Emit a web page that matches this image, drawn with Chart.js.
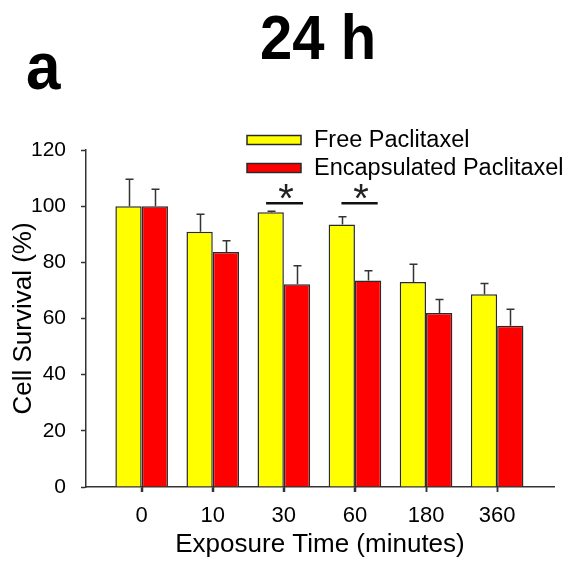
<!DOCTYPE html>
<html>
<head>
<meta charset="utf-8">
<script src="https://cdn.jsdelivr.net/npm/chart.js@4/dist/chart.umd.min.js"></script>
<style>
html,body{margin:0;padding:0;background:#fff;}
#wrap{width:569px;height:564px;}
</style>
</head>
<body>
<div id="wrap"><canvas id="c" width="569" height="564"></canvas></div>
<script>
// ---- data ----
const categories = ['0', '10', '30', '60', '180', '360'];
const freeValues = [100, 90.9, 97.8, 93.5, 73.0, 68.6];
const freeErrors = [9.6, 6.2, 0.4, 2.7, 6.3, 3.9];
const encValues = [100, 83.7, 72.2, 73.5, 62.0, 57.4];
const encErrors = [6.0, 4.0, 6.6, 3.5, 4.8, 5.9];
const yTicks = [0, 20, 40, 60, 80, 100, 120];
const seriesNames = ['Free Paclitaxel', 'Encapsulated Paclitaxel'];
const seriesColors = ['#FFFF00', '#FF0000'];
// significance markers: [fromX, toX, yValue] in data units
const sigMarks = [[1.75, 2.27, 101], [2.81, 3.32, 101]];

const FONT = '"Liberation Sans", Arial, sans-serif';
const EDGE = '#2a2a2a';

const errorBars = {
  id: 'errorBars',
  afterDatasetsDraw(chart) {
    const ctx = chart.ctx;
    const y = chart.scales.y;
    const xs = chart.scales.x;
    const errs = [freeErrors, encErrors];
    const vals = [freeValues, encValues];
    ctx.save();
    ctx.strokeStyle = '#333';
    ctx.lineWidth = 1.5;
    chart.data.datasets.forEach((ds, i) => {
      const meta = chart.getDatasetMeta(i);
      meta.data.forEach((el, j) => {
        const top = y.getPixelForValue(vals[i][j] + errs[i][j]);
        const x = Math.round(el.x) + 0.5;
        ctx.beginPath();
        ctx.moveTo(x, el.y);
        ctx.lineTo(x, top);
        ctx.moveTo(x - 4, top);
        ctx.lineTo(x + 4, top);
        ctx.stroke();
      });
    });
    // x-axis tick marks at category centres
    const base = y.getPixelForValue(0);
    categories.forEach((c, i) => {
      const px = Math.round(xs.getPixelForValue(i)) + 0.5;
      ctx.beginPath();
      ctx.moveTo(px, base);
      ctx.lineTo(px, base + 5);
      ctx.stroke();
    });
    // significance lines and stars
    sigMarks.forEach(m => {
      const x1 = xs.getPixelForValue(m[0]);
      const x2 = xs.getPixelForValue(m[1]);
      const yy = y.getPixelForValue(m[2]);
      ctx.strokeStyle = '#111';
      ctx.lineWidth = 2.5;
      ctx.beginPath();
      ctx.moveTo(x1, yy);
      ctx.lineTo(x2, yy);
      ctx.stroke();
      ctx.fillStyle = '#222';
      ctx.font = '40px ' + FONT;
      ctx.textAlign = 'center';
      ctx.textBaseline = 'alphabetic';
      ctx.fillText('*', (x1 + x2) / 2 + 1.5, yy + 9);
    });
    ctx.restore();
  }
};

const decorations = {
  id: 'decorations',
  afterDraw(chart) {
    const ctx = chart.ctx;
    ctx.save();
    ctx.fillStyle = '#000';
    ctx.textAlign = 'left';
    ctx.textBaseline = 'alphabetic';
    // main title
    ctx.save();
    ctx.translate(260, 59);
    ctx.scale(1, 1.09);
    ctx.font = 'bold 58px ' + FONT;
    ctx.fillText('24 h', 0, 0);
    ctx.restore();
    // panel letter
    ctx.save();
    ctx.translate(26, 89);
    ctx.scale(1, 1.07);
    ctx.font = 'bold 62px ' + FONT;
    ctx.fillText('a', 0, 0);
    ctx.restore();
    // legend
    const rows = [140, 168];
    ctx.font = '23.5px ' + FONT;
    ctx.textBaseline = 'middle';
    seriesNames.forEach((name, i) => {
      const cy = rows[i];
      ctx.fillStyle = seriesColors[i];
      ctx.fillRect(247, cy - 4.5, 54, 9);
      ctx.strokeStyle = EDGE;
      ctx.lineWidth = 1.5;
      ctx.strokeRect(247, cy - 4.5, 54, 9);
      ctx.fillStyle = '#000';
      ctx.fillText(name, 314, cy + 1);
    });
    ctx.restore();
  }
};

const ds = (name, vals, color) => ({
  label: name,
  data: vals.map((v, i) => ({x: i, y: v})),
  backgroundColor: color,
  borderColor: EDGE,
  borderWidth: 1.5,
  borderSkipped: 'bottom',
  categoryPercentage: 0.74,
  barPercentage: 1.0
});

new Chart(document.getElementById('c'), {
  type: 'bar',
  data: {
    datasets: [
      ds(seriesNames[0], freeValues, seriesColors[0]),
      ds(seriesNames[1], encValues, seriesColors[1])
    ]
  },
  options: {
    responsive: false,
    animation: false,
    devicePixelRatio: 1,
    layout: {padding: {left: 0, right: 15, top: 150, bottom: 0}},
    plugins: {legend: {display: false}, title: {display: false}, tooltip: {enabled: false}},
    scales: {
      x: {
        type: 'linear',
        min: -0.783,
        max: 5.80,
        offset: false,
        afterBuildTicks: s => { s.ticks = categories.map((c, i) => ({value: i})); },
        afterFit: s => { s.height = 77; },
        ticks: {
          callback: v => categories[v],
          font: {size: 22, family: FONT},
          color: '#000',
          padding: 11,
          maxRotation: 0,
          autoSkip: false
        },
        grid: {offset: false, drawOnChartArea: false, drawTicks: true, tickLength: 5, tickColor: '#333', tickWidth: 1.5},
        border: {display: true, color: '#333', width: 1.5},
        title: {display: true, text: 'Exposure Time (minutes)', font: {size: 26, family: FONT}, color: '#000', padding: {top: 0, bottom: 4}}
      },
      y: {
        min: 0,
        max: 120,
        afterBuildTicks: s => { s.ticks = yTicks.map(v => ({value: v})); },
        afterFit: s => { s.width = 86; },
        ticks: {font: {size: 21, family: FONT}, color: '#000', padding: 15},
        grid: {offset: false, drawOnChartArea: false, drawTicks: true, tickLength: 5, tickColor: '#333', tickWidth: 1.5},
        border: {display: true, color: '#333', width: 1.5},
        title: {display: true, text: 'Cell Survival (%)', font: {size: 26, family: FONT}, color: '#000', padding: {top: 8, bottom: 0}}
      }
    }
  },
  plugins: [errorBars, decorations]
});
</script>
</body>
</html>
